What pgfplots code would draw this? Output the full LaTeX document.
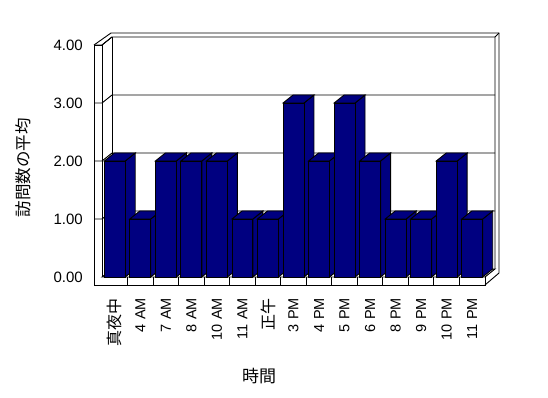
\documentclass[border=0pt]{standalone}
\usepackage{pgfplots}
\pgfplotsset{compat=1.18}
\usepackage{pgfplotstable}
\usepackage{fontspec}
\setmainfont{Liberation Sans}
\newfontfamily\jp{Noto Sans CJK JP}
\definecolor{navy}{RGB}{0,0,128}

\pgfplotstableread{
x v
0 2
1 1
2 2
3 2
4 2
5 1
6 1
7 3
8 2
9 3
10 2
11 1
12 1
13 2
14 1
}\datatable

\begin{document}
\begin{tikzpicture}
\path[use as bounding box] (-102pt,-121pt) rectangle (446pt,277pt);
\begin{axis}[
  scale only axis, width=383pt, height=232pt,
  xmin=-0.5, xmax=14.5, ymin=0, ymax=4,
  clip=false,
  axis line style={draw=none},
  major tick length=0pt,
  xtick={0,...,14},
  xticklabels={{\jp\fontsize{16}{18}\selectfont 真夜中},4 AM,7 AM,8 AM,10 AM,11 AM,{\jp\fontsize{16}{18}\selectfont 正午},3 PM,4 PM,5 PM,6 PM,8 PM,9 PM,10 PM,11 PM},
  xticklabel style={font=\fontsize{14.5}{16}\selectfont, inner sep=0pt, yshift=-21pt, rotate=90, anchor=east},
  ytick={0,1,2,3,4},
  yticklabels={0.00,1.00,2.00,3.00,4.00},
  yticklabel style={font=\fontsize{15}{17}\selectfont, inner sep=0pt, anchor=east, xshift=-19pt},
  xlabel={\jp 時間},
  xlabel style={font=\fontsize{17}{19}\selectfont, at={(axis description cs:0.41,-0.427)}, anchor=center},
  ylabel={\jp 訪問数の平均},
  ylabel style={font=\fontsize{16.5}{18}\selectfont, at={(axis description cs:-0.206,0.47)}, anchor=center, rotate=0},
]
% left wall front face and top
\draw[line width=0.9pt] (axis cs:-0.813,-0.138) -- (axis cs:-0.813,4) -- (axis cs:-0.5,4) -- (axis cs:-0.5,0);
\draw[line width=0.9pt] (axis cs:-0.813,4) -- (axis cs:-0.147,4.207) -- (axis cs:15.049,4.207) -- (axis cs:15.049,0.069) -- (axis cs:14.5,-0.138);
\draw[line width=0.9pt] (axis cs:-0.5,4) -- (axis cs:-0.108,4.138);
\draw[line width=0.9pt] (axis cs:-0.108,0.138) -- (axis cs:-0.108,4.138);
\draw[line width=0.9pt] (axis cs:14.892,0.138) -- (axis cs:14.892,4.138) -- (axis cs:15.049,4.207);
% gridlines
\pgfplotsinvokeforeach{1,2,3,4}{
  \draw[line width=0.9pt] (axis cs:-0.813,#1) -- (axis cs:-0.5,#1) -- (axis cs:-0.108,#1+0.138) -- (axis cs:14.892,#1+0.138);
}
% floor
\draw[line width=0.9pt] (axis cs:-0.5,0) -- (axis cs:-0.108,0.138) -- (axis cs:14.892,0.138) -- (axis cs:14.5,0) -- cycle;
\draw[line width=0.9pt] (axis cs:-0.813,-0.138) -- (axis cs:14.5,-0.138) -- (axis cs:14.5,0);
\pgfplotsinvokeforeach{0,...,13}{
  \draw[line width=0.9pt] (axis cs:#1+0.5,0) -- (axis cs:#1+0.5,-0.138);
}
% 3D sides and tops of bars
\pgfplotsinvokeforeach{0,...,14}{
  \pgfplotstablegetelem{#1}{v}\of\datatable
  \pgfmathsetmacro\yv{\pgfplotsretval}
  \pgfmathsetmacro\yt{\pgfplotsretval+0.138}
  \pgfmathsetmacro\xa{#1-0.41}
  \pgfmathsetmacro\xb{#1+0.41}
  \pgfmathsetmacro\xc{#1+0.802}
  \pgfmathsetmacro\xd{#1-0.018}
  \edef\temp{\noexpand\filldraw[fill=navy,draw=black,line width=0.9pt] (axis cs:\xb,0) -- (axis cs:\xc,0.138) -- (axis cs:\xc,\yt) -- (axis cs:\xb,\yv) -- cycle;
    \noexpand\filldraw[fill=navy,draw=black,line width=0.9pt] (axis cs:\xa,\yv) -- (axis cs:\xb,\yv) -- (axis cs:\xc,\yt) -- (axis cs:\xd,\yt) -- cycle;}
  \temp
}
\addplot[ybar, bar width=0.82, fill=navy, draw=black, line width=0.9pt] table[x=x, y=v] {\datatable};
\end{axis}
\end{tikzpicture}
\end{document}
